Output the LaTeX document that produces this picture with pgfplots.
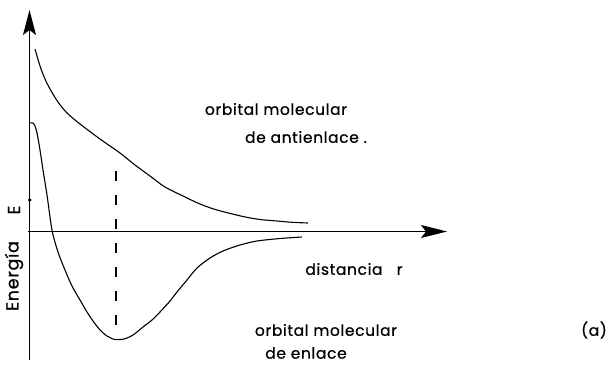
\documentclass[border=0pt]{standalone}
\usepackage{fontspec}
\setmainfont{Poppins}[LetterSpace=4, FakeBold=0.6]
\usepackage{pgfplots}
\pgfplotsset{compat=1.18}
\usetikzlibrary{arrows.meta}

\tikzset{lab/.style={font=\fontsize{15.5}{18}\selectfont, inner sep=0pt}}

\begin{document}
\begin{tikzpicture}
\begin{axis}[
  hide axis, scale only axis,
  width=613pt, height=365pt,
  xmin=0, xmax=613, ymin=0, ymax=365,
  y dir=reverse, clip=false,
]
\path (rel axis cs:0,0) rectangle (rel axis cs:1,1);

% energy axis and distance axis
\addplot[line width=1.4pt, -{Stealth[length=25pt,width=13pt,inset=5pt]}]
  coordinates {(29.5,360) (29.5,10)};
\addplot[line width=1.4pt, -{Stealth[length=26pt,width=13pt,inset=5pt]}]
  coordinates {(28,231.5) (447,231.5)};

% marker on the energy axis
\addplot[only marks, mark=*, mark size=1.6pt] coordinates {(29.8,200)};

% antibonding orbital energy
\addplot[line width=1.1pt, smooth] coordinates {
  (35,49) (40,66) (45,79) (50,89) (58,102) (67,113) (80,124) (100,139)
  (120,153) (135,165) (150,176) (165,187) (183,196) (200,204) (217,210)
  (243,216.5) (260,219.5) (277,221) (292,222.3) (308,223)
};

% bonding orbital energy
\addplot[line width=1.1pt, smooth, tension=0.5] coordinates {
  (30,123) (33,123) (35,126) (37,133) (40,150) (43,170) (47,195) (52,230)
  (58,252) (65,270) (72,286) (80,300) (87,312) (93,321) (100,330) (107,336)
  (115,339.5) (124,339) (133,335) (143,327) (152,320) (160,312) (170,301)
  (177,292) (187,280) (197,268) (210,258) (223,251) (240,245) (257,241)
  (280,238.5) (302,237)
};

% equilibrium distance
\addplot[line width=1.1pt, dash pattern=on 10pt off 14pt]
  coordinates {(116,171) (116,336)};

% labels
\node[lab] at (axis cs:276,109) {orbital molecular};
\node[lab] at (axis cs:306,137) {de antienlace .};
\node[lab] at (axis cs:354,269) {distancia\ \ \ r};
\node[lab] at (axis cs:326,330) {orbital molecular};
\node[lab] at (axis cs:306,353) {de enlace};
\node[lab] at (axis cs:594,330) {(a)};
\node[lab, font=\fontsize{17.5}{20}\selectfont, rotate=90] at (axis cs:14,276) {Energía};
\node[lab, font=\fontsize{17.5}{20}\selectfont, rotate=90] at (axis cs:14,210) {E};
\end{axis}
\end{tikzpicture}
\end{document}
